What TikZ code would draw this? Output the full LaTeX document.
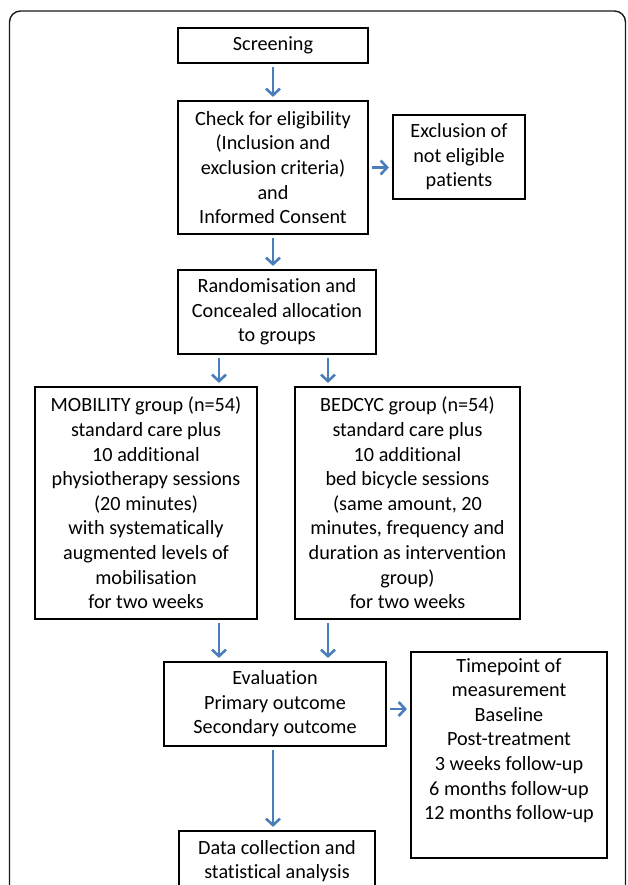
\documentclass[tikz,border=0pt]{standalone}
\usepackage{fontspec}
\setmainfont{Carlito}[Ligatures=NoCommon]
\usetikzlibrary{arrows.meta}
\definecolor{arrblue}{HTML}{4A7EBB}
\tikzset{
  flowbox/.style={draw, line width=2.2pt, align=center, inner sep=0pt,
    font=\fontsize{20.2}{24.6}\selectfont},
  arr/.style={draw=arrblue, line width=2.6pt, shorten <=3pt, shorten >=3pt,
    -{Straight Barb[length=6.5pt,width=14pt,line width=2.6pt]}},
}
\begin{document}
\begin{tikzpicture}[x=1pt,y=-1pt]
\useasboundingbox (0,0) rectangle (627,885);
\clip (0,0) rectangle (627,885);
\draw[line width=1.4pt, draw=black!90, rounded corners=11pt] (9.5,11) rectangle (625.5,940);

\node[flowbox, minimum width=190pt, minimum height=35pt] (screen) at (273,45.5) {Screening};
\node[flowbox, minimum width=190pt, minimum height=133pt] (check) at (273,167.5)
  {Check for eligibility\\(Inclusion and\\exclusion criteria)\\and\\Informed Consent};
\node[flowbox, minimum width=132pt, minimum height=84pt] (excl) at (459,157)
  {Exclusion of\\not eligible\\patients};
\node[flowbox, minimum width=198pt, minimum height=84pt] (rand) at (277,312)
  {Randomisation and\\Concealed allocation\\to groups};
\node[flowbox, minimum width=222pt, minimum height=232pt] (mob) at (146,503)
  {MOBILITY group (n=54)\\standard care plus\\10 additional\\physiotherapy sessions\\(20 minutes)\\with systematically\\augmented levels of\\mobilisation\\for two weeks};
\node[flowbox, minimum width=225pt, minimum height=232pt] (bed) at (407.5,503)
  {BEDCYC group (n=54)\\standard care plus\\10 additional\\bed bicycle sessions\\(same amount, 20\\minutes, frequency and\\duration as intervention\\group)\\for two weeks};
\node[flowbox, minimum width=222pt, minimum height=84pt] (eval) at (275,704)
  {Evaluation\\Primary outcome\\Secondary outcome};
\node[flowbox, minimum width=196pt, minimum height=206pt] (time) at (509,755)
  {Timepoint of\\measurement\\Baseline\\Post-treatment\\3 weeks follow-up\\6 months follow-up\\12 months follow-up\\\strut};
\node[flowbox, minimum width=196pt, minimum height=60pt] (data) at (277,861)
  {Data collection and\\statistical analysis};

\coordinate (la) at (219,0);
\coordinate (ra) at (328,0);
\draw[arr] (screen.south) -- (check.north);
\draw[arr] (check.east) -- (check.east -| excl.west);
\draw[arr] (check.south) -- (check.south |- rand.north);
\draw[arr] (rand.south -| la) -- (mob.north -| la);
\draw[arr] (rand.south -| ra) -- (bed.north -| ra);
\draw[arr] (mob.south -| la) -- (eval.north -| la);
\draw[arr] (bed.south -| ra) -- (eval.north -| ra);
\draw[arr] ([yshift=-5pt]eval.east) -- ([yshift=-5pt]eval.east -| time.west);
\draw[arr] (eval.south -| check.south) -- (data.north -| check.south);
\end{tikzpicture}
\end{document}
